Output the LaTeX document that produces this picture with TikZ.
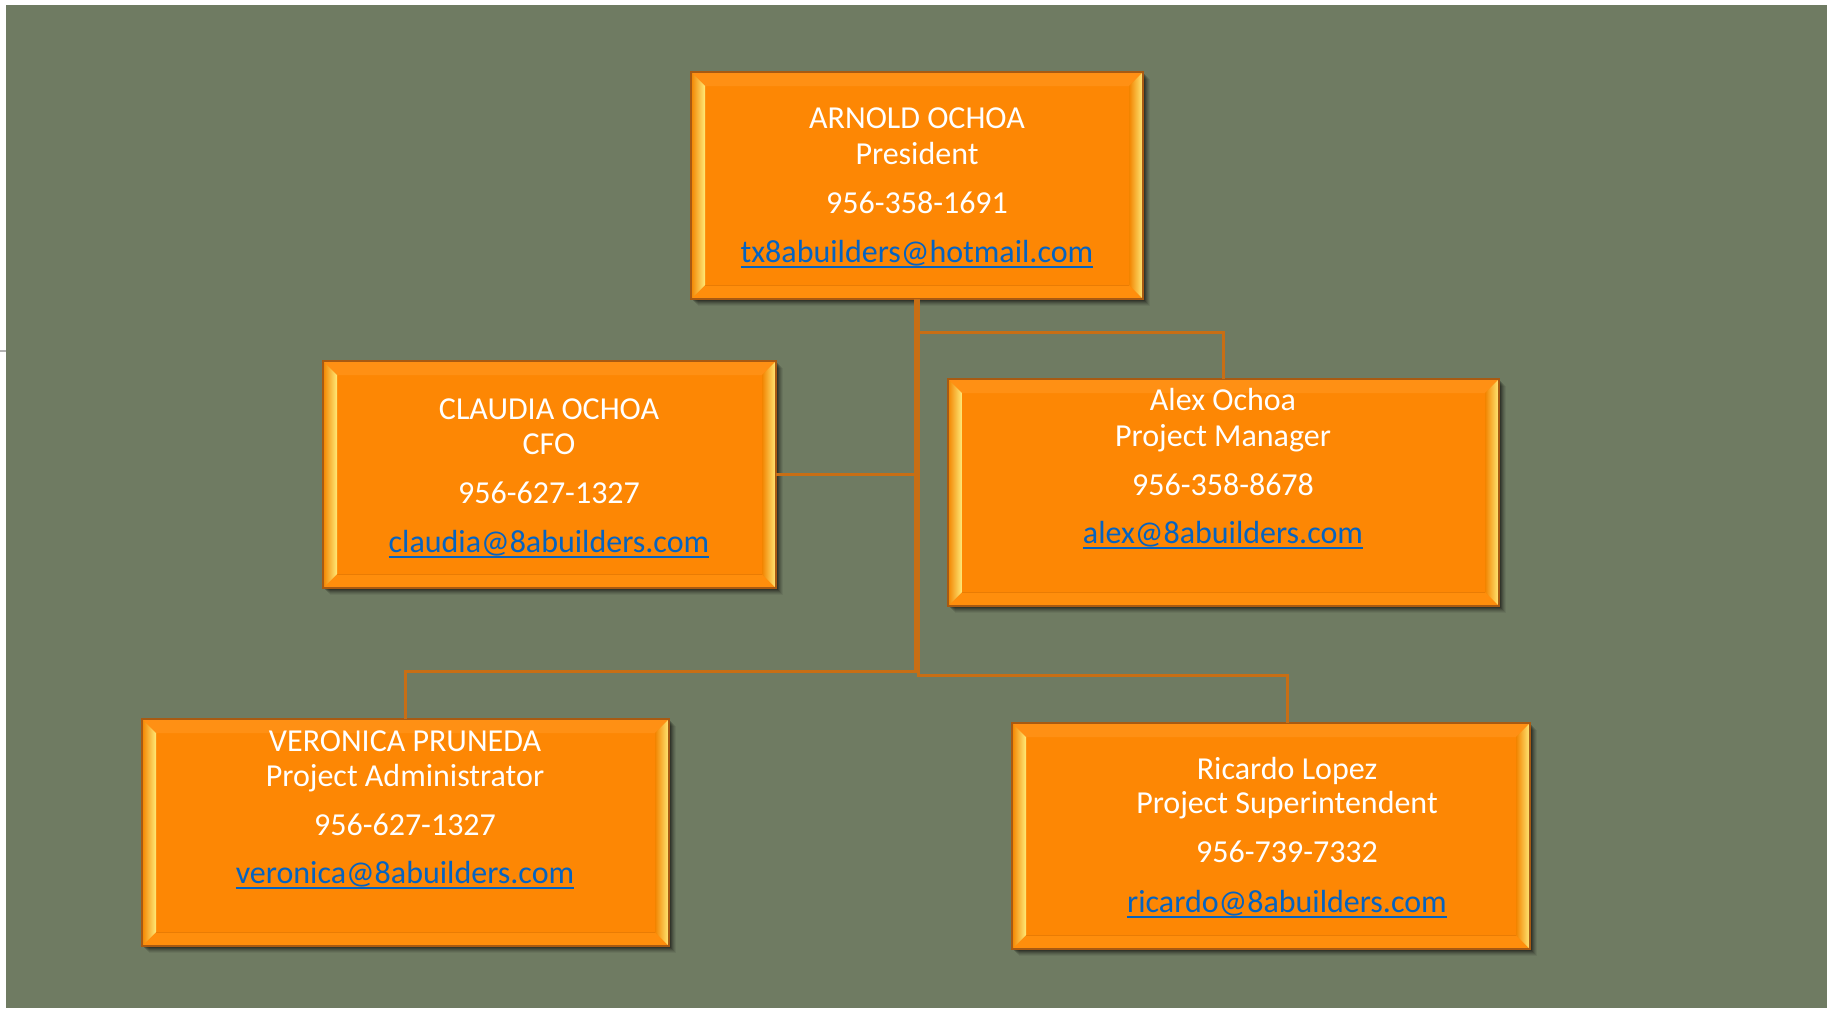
\documentclass[tikz,border=0pt]{standalone}
\usepackage{fontspec}
\setmainfont{Carlito}
\usetikzlibrary{calc}
\definecolor{bggreen}{HTML}{6F7B62}
\definecolor{face}{HTML}{FD8704}
\definecolor{topbevc}{HTML}{FF9014}
\definecolor{botbevc}{HTML}{FF8E0C}
\definecolor{bevyellow}{HTML}{FFEA78}
\definecolor{bevorange}{HTML}{F28400}
\definecolor{edgecol}{HTML}{A85A12}
\definecolor{linkcol}{HTML}{C86E14}
\definecolor{mailblue}{HTML}{0563C1}
\tikzset{
  orgface/.style={rectangle, fill=face, draw=edgecol, line width=0.5pt, inner sep=0pt, outer sep=0pt},
  txt/.style={anchor=base, inner sep=0pt, outer sep=0pt, text=white, font=\fontsize{16pt}{18pt}\selectfont},
  mail/.style={txt, text=mailblue},
  uline/.style={mailblue, line width=0.9pt},
  conn/.style={linkcol, line width=1.5pt},
}
\newcommand\orgbox[5]{%
  \foreach \s/\o in {7/0.06,6/0.08,5/0.1,4/0.13,3/0.16,2/0.2}{\fill[black,opacity=\o] (#2+\s,#3+\s) rectangle (#4+\s,#5+\s);}
  \node[orgface, minimum width={(#4-#2)*0.5pt}, minimum height={(#5-#3)*0.5pt}] (#1) at ({(#2+#4)/2},{(#3+#5)/2}) {};
  \fill[topbevc] (#1.north west) -- (#1.north east) -- ($(#1.north east)+(-7pt,-7pt)$) -- ($(#1.north west)+(7pt,-7pt)$) -- cycle;
  \fill[botbevc] (#1.south west) -- (#1.south east) -- ($(#1.south east)+(-7pt,7pt)$) -- ($(#1.south west)+(7pt,7pt)$) -- cycle;
  \draw[face!92!black, line width=0.5pt] ($(#1.south west)+(7pt,7pt)$) -- ($(#1.south east)+(-7pt,7pt)$);
  \shade[left color=bevorange, right color=bevyellow] (#1.north west) -- ($(#1.north west)+(7pt,-7pt)$) -- ($(#1.south west)+(7pt,7pt)$) -- (#1.south west) -- cycle;
  \shade[left color=bevorange, right color=bevyellow] (#1.north east) -- ($(#1.north east)+(-7pt,-7pt)$) -- ($(#1.south east)+(-7pt,7pt)$) -- (#1.south east) -- cycle;
  \draw[edgecol, line width=0.6pt] (#1.north west) rectangle (#1.south east);
}
\newcommand\orgtext[9]{% id, cx, b1, b2, b3, b4, name, title, phone
  \node[txt] (#1name) at (#2,#3) {#7};
  \node[txt] (#1title) at (#2,#4) {#8};
  \node[txt] (#1phone) at (#2,#5) {#9};
  \coordinate (#1mailpos) at (#2,#6);
}
\newcommand\orgmail[2]{%
  \node[mail] (#1mail) at (#1mailpos) {#2};
  \draw[uline] ([yshift=-2.4pt]#1mail.base west) -- ([yshift=-2.4pt]#1mail.base east);
}
\begin{document}
\begin{tikzpicture}[x=0.5pt,y=-0.5pt]
\useasboundingbox (0,0) rectangle (1827,1008);
\fill[white] (0,0) rectangle (1827,1008);
\fill[bggreen] (6,5) rectangle (1827,1008);
\draw[gray!60, line width=0.8pt] (0,351) -- (6,351);

\orgbox{top}{691}{72}{1143}{299}
\orgbox{claudia}{323}{361}{776}{588}
\orgbox{alex}{948}{379}{1499}{606}
\orgbox{veronica}{142}{719}{669}{946}
\orgbox{ricardo}{1012}{723}{1530}{949}

\orgtext{t}{917}{128}{164}{213}{262}{ARNOLD OCHOA}{President}{956-358-1691}
\orgmail{t}{tx8abuilders@hotmail.com}
\orgtext{c}{549}{419}{454}{503}{552}{CLAUDIA OCHOA}{CFO}{956-627-1327}
\orgmail{c}{claudia@8abuilders.com}
\orgtext{a}{1223}{410}{446}{495}{543}{Alex Ochoa}{Project Manager}{956-358-8678}
\orgmail{a}{alex@8abuilders.com}
\orgtext{v}{405}{751}{786}{835}{883}{VERONICA PRUNEDA}{Project Administrator}{956-627-1327}
\orgmail{v}{veronica@8abuilders.com}
\orgtext{r}{1287}{779}{813}{862}{912}{Ricardo Lopez}{Project Superintendent}{956-739-7332}
\orgmail{r}{ricardo@8abuilders.com}

\coordinate (arow) at (0,332);
\coordinate (vrow) at (0,671);
\coordinate (rrow) at (0,675);
\draw[conn] ([xshift=-1pt]top.south) |- (claudia.east);
\draw[conn] ([xshift=-1pt]top.south) |- (vrow -| veronica.north) -- (veronica.north);
\draw[conn] ([xshift=0.5pt]top.south) |- (arow -| alex.north) -- (alex.north);
\draw[conn] ([xshift=0.5pt]top.south) |- (rrow -| rname) -- (rname |- ricardo.north);
\end{tikzpicture}
\end{document}
